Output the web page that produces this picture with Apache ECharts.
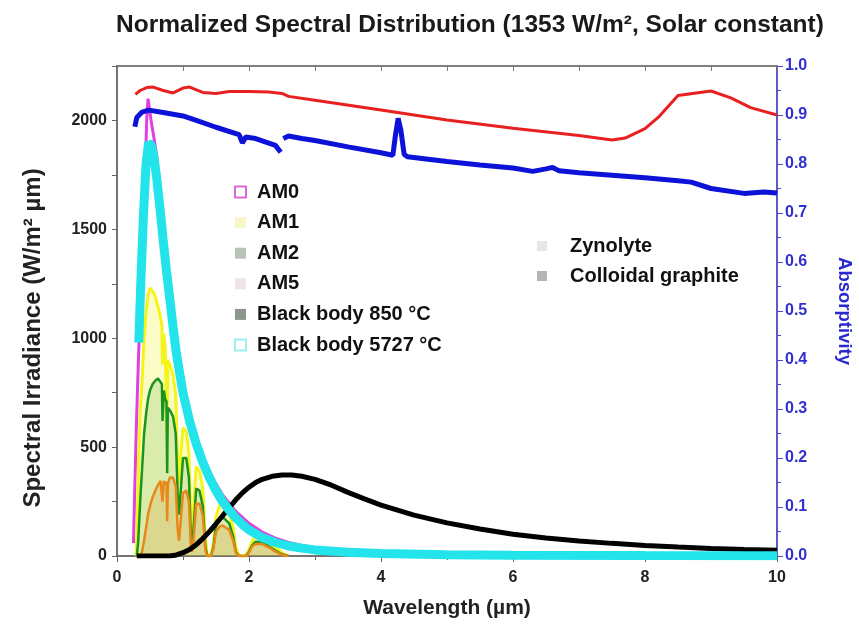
<!DOCTYPE html>
<html><head><meta charset="utf-8">
<script src="https://cdn.jsdelivr.net/npm/echarts@6/dist/echarts.min.js"></script>
<style>html,body{margin:0;padding:0;background:#fff}#c{width:859px;height:632px}</style>
</head><body><div id="c"></div>
<script>
// [wavelength (µm), spectral irradiance (W/m² µm)]
const am0 = [[0.25,60],[0.27,320],[0.29,560],[0.31,760],[0.33,950],[0.35,1080],[0.37,1150],[0.39,1250],[0.41,1550],[0.43,1800],[0.45,2000],[0.47,2100],[0.49,2060],[0.52,1990],[0.56,1920],[0.6,1840],[0.65,1680],[0.7,1500],[0.75,1350],[0.8,1200],[0.9,960],[1.0,790],[1.1,660],[1.2,550],[1.3,460],[1.4,390],[1.5,330],[1.6,280],[1.8,205],[2.0,150],[2.2,110],[2.4,82],[2.6,62],[2.8,48],[3.0,38],[3.5,22],[4.0,14],[5.0,7],[6,4],[8,2],[10,1]];
const am1 = [[0.29,0],[0.31,200],[0.33,480],[0.35,650],[0.38,800],[0.41,1000],[0.44,1120],[0.47,1200],[0.5,1230],[0.53,1220],[0.57,1200],[0.6,1170],[0.65,1110],[0.68,1060],[0.69,880],[0.71,1020],[0.73,960],[0.75,960],[0.76,560],[0.77,900],[0.8,880],[0.85,830],[0.89,740],[0.92,430],[0.94,330],[0.97,480],[1.0,590],[1.05,570],[1.09,470],[1.12,160],[1.14,120],[1.17,280],[1.2,410],[1.25,390],[1.3,310],[1.34,80],[1.37,0],[1.42,0],[1.46,60],[1.5,180],[1.55,230],[1.6,240],[1.7,200],[1.76,130],[1.8,40],[1.85,0],[1.95,0],[2.0,30],[2.05,70],[2.1,90],[2.2,85],[2.3,65],[2.4,40],[2.5,15],[2.6,0]];
const am2 = [[0.3,0],[0.32,60],[0.34,180],[0.36,300],[0.38,400],[0.41,560],[0.44,650],[0.47,720],[0.5,760],[0.54,790],[0.58,805],[0.62,815],[0.65,820],[0.68,790],[0.69,620],[0.71,760],[0.73,720],[0.75,710],[0.76,380],[0.77,680],[0.8,670],[0.85,640],[0.89,560],[0.92,280],[0.94,190],[0.97,320],[1.0,450],[1.05,450],[1.09,360],[1.12,80],[1.14,50],[1.17,170],[1.2,310],[1.25,300],[1.3,230],[1.34,40],[1.37,0],[1.42,0],[1.46,40],[1.5,140],[1.55,175],[1.6,180],[1.7,150],[1.76,90],[1.8,20],[1.85,0],[1.95,0],[2.0,20],[2.05,50],[2.1,65],[2.2,62],[2.3,45],[2.4,25],[2.5,8],[2.6,0]];
const am5 = [[0.35,0],[0.38,20],[0.41,70],[0.44,130],[0.47,190],[0.5,230],[0.54,270],[0.58,300],[0.62,325],[0.66,345],[0.68,350],[0.69,250],[0.71,345],[0.73,330],[0.75,340],[0.76,160],[0.77,330],[0.8,360],[0.85,360],[0.89,320],[0.92,120],[0.94,70],[0.97,180],[1.0,290],[1.05,300],[1.09,250],[1.12,40],[1.14,20],[1.17,110],[1.2,240],[1.25,240],[1.3,185],[1.34,25],[1.37,0],[1.42,0],[1.46,30],[1.5,110],[1.55,135],[1.6,140],[1.7,120],[1.76,70],[1.8,15],[1.85,0],[1.95,0],[2.0,15],[2.05,45],[2.1,55],[2.2,55],[2.3,40],[2.4,20],[2.5,5],[2.6,0]];
const bb850 = [[0.3,0],[0.8,0],[0.9,5],[1.0,15],[1.1,30],[1.2,52],[1.3,80],[1.4,112],[1.5,148],[1.6,185],[1.7,222],[1.8,258],[1.9,290],[2.0,316],[2.1,337],[2.2,352],[2.35,366],[2.5,372],[2.65,372],[2.8,366],[3.0,352],[3.25,325],[3.5,292],[3.75,262],[4.0,234],[4.5,188],[5.0,152],[5.5,124],[6.0,100],[6.5,83],[7.0,69],[7.5,58],[8.0,48],[8.5,41],[9.0,35],[9.5,30],[10,26]];
const bb5727 = [[0.33,980],[0.36,1250],[0.4,1560],[0.44,1800],[0.48,1900],[0.52,1885],[0.56,1830],[0.6,1740],[0.65,1600],[0.7,1450],[0.75,1310],[0.8,1180],[0.85,1050],[0.9,930],[1.0,750],[1.1,620],[1.2,515],[1.3,430],[1.4,360],[1.5,300],[1.6,250],[1.7,210],[1.8,175],[1.9,145],[2.0,120],[2.2,85],[2.4,62],[2.6,46],[2.8,36],[3.0,28],[3.5,17],[4.0,11],[5.0,6],[6.0,4],[8.0,2],[10,1]];
// [wavelength (µm), absorptivity]
const zynolyte = [[0.28,0.942],[0.35,0.950],[0.45,0.956],[0.55,0.957],[0.7,0.950],[0.85,0.945],[1.0,0.955],[1.1,0.957],[1.3,0.946],[1.5,0.944],[1.7,0.948],[2.0,0.948],[2.3,0.947],[2.5,0.944],[2.6,0.938],[3.0,0.930],[4.0,0.910],[5.0,0.890],[6.0,0.873],[7.0,0.858],[7.5,0.849],[7.7,0.853],[8.0,0.872],[8.2,0.895],[8.5,0.940],[9.0,0.949],[9.3,0.935],[9.6,0.915],[10,0.900]];
const graphite = [[0.27,0.876],[0.3,0.895],[0.38,0.906],[0.48,0.910],[0.7,0.905],[1.0,0.898],[1.18,0.890],[1.5,0.875],[1.85,0.860],[1.9,0.843],[1.95,0.855],[2.1,0.852],[2.4,0.838],[2.48,0.824],[2.5,null],[2.52,0.852],[2.6,0.857],[2.8,0.852],[3.0,0.848],[3.5,0.835],[4.0,0.823],[4.18,0.818],[4.22,0.86],[4.26,0.893],[4.3,0.87],[4.35,0.82],[4.4,0.815],[5.0,0.805],[5.5,0.798],[6.0,0.792],[6.3,0.785],[6.5,0.790],[6.6,0.793],[6.7,0.786],[7.0,0.782],[7.5,0.777],[8.0,0.772],[8.5,0.766],[8.7,0.763],[9.0,0.750],[9.5,0.740],[9.8,0.743],[10,0.741]];
const xTicks = [0,2,4,6,8,10];

const FF = "'Liberation Sans', Arial, sans-serif";
const chart = echarts.init(document.getElementById('c'), null, {renderer:'canvas'});
const spec = (name, data, color, width, z, area) => ({
  name, type:'line', data, xAxisIndex:0, yAxisIndex:0, showSymbol:false, smooth:false,
  lineStyle:{color, width}, itemStyle:{color}, z,
  areaStyle: area ? {color, opacity: area} : undefined,
  emphasis:{disabled:true}, silent:true
});
chart.setOption({
  animation:false,
  backgroundColor:'#fff',
  title:{text:'Normalized Spectral Distribution (1353 W/m², Solar constant)', left:111, top:8,
    textStyle:{fontFamily:FF, fontWeight:'bold', fontSize:24.5, color:'#1a1a1a'}},
  grid:{left:117, right:82, top:66, bottom:76, outerBoundsMode:'none', containLabel:false,
    show:true, borderColor:'#777', borderWidth:1.5, backgroundColor:'transparent'},
  legend:[
    {orient:'vertical', left:234, top:182, itemGap:10.6, itemWidth:11, itemHeight:11, padding:0,
     textStyle:{fontFamily:FF, fontWeight:'bold', fontSize:20, color:'#111', padding:[0,0,0,6]},
     selectedMode:false,
     data:[
      {name:'AM0', icon:'emptyRect', itemStyle:{color:'#d86ad8', borderColor:'#d86ad8', borderWidth:1.5}},
      {name:'AM1', icon:'rect', itemStyle:{color:'#f6f6c8'}},
      {name:'AM2', icon:'rect', itemStyle:{color:'#b8c4b8'}},
      {name:'AM5', icon:'rect', itemStyle:{color:'#ece6e6'}},
      {name:'Black body 850 °C', icon:'rect', itemStyle:{color:'#8c968c'}},
      {name:'Black body 5727 °C', icon:'emptyRect', itemStyle:{color:'#9ef0f0', borderColor:'#9ef0f0', borderWidth:1.5}}
     ]},
    {orient:'vertical', left:537, top:236, itemGap:10, itemWidth:10, itemHeight:10, padding:0,
     textStyle:{fontFamily:FF, fontWeight:'bold', fontSize:20, color:'#111', padding:[0,0,0,18]},
     selectedMode:false,
     data:[
      {name:'Zynolyte', icon:'rect', itemStyle:{color:'#e6e6e6'}},
      {name:'Colloidal graphite', icon:'rect', itemStyle:{color:'#b4b4b4'}}
     ]}
  ],
  xAxis:[
    {type:'value', position:'bottom', min:0, max:10, interval:2,
     name:'Wavelength (µm)', nameLocation:'middle', nameGap:42,
     nameTextStyle:{fontFamily:FF, fontWeight:'bold', fontSize:21, color:'#222'},
     axisLine:{show:true, onZero:false, lineStyle:{color:'#666', width:1.5}},
     axisTick:{show:true, inside:false, length:6, lineStyle:{color:'#666'}},
     minorTick:{show:true, splitNumber:2, length:4, lineStyle:{color:'#666'}},
     splitLine:{show:false},
     axisLabel:{fontFamily:FF, fontWeight:'bold', fontSize:16, color:'#222', margin:14,
       formatter:v=>xTicks.includes(v)?String(v):''}},
    {type:'value', position:'top', min:0, max:10, interval:1,
     axisLine:{show:true, onZero:false, lineStyle:{color:'#777', width:1.5}},
     axisTick:{show:true, inside:true, length:5, lineStyle:{color:'#777'}},
     splitLine:{show:false}, axisLabel:{show:false}}
  ],
  yAxis:[
    {type:'value', position:'left', min:0, max:2250, interval:250,
     name:'Spectral Irradiance (W/m² µm)', nameLocation:'middle', nameGap:72, nameRotate:90,
     nameTextStyle:{fontFamily:FF, fontWeight:'bold', fontSize:24, color:'#222', padding:[0,54,0,0]},
     axisLine:{show:true, onZero:false, lineStyle:{color:'#666', width:1.5}},
     axisTick:{show:true, inside:false, length:5, lineStyle:{color:'#666'}},
     splitLine:{show:false},
     axisLabel:{fontFamily:FF, fontWeight:'bold', fontSize:16, color:'#222', margin:10,
       formatter:v=>(v%500===0 && v<=2000)?String(v):''}},
    {type:'value', position:'right', min:0, max:1, interval:0.1,
     name:'Absorptivity', nameLocation:'middle', nameGap:58, nameRotate:-90,
     nameTextStyle:{fontFamily:FF, fontWeight:'bold', fontSize:18.5, color:'#2a2ad0'},
     axisLine:{show:true, onZero:false, lineStyle:{color:'#4848d0', width:1.5}},
     axisTick:{show:true, inside:false, length:6, lineStyle:{color:'#4848d0'}},
     minorTick:{show:true, splitNumber:2, length:4, lineStyle:{color:'#4848d0'}},
     splitLine:{show:false},
     axisLabel:{fontFamily:FF, fontWeight:'bold', fontSize:16, color:'#3030d0', margin:8,
       formatter:v=>v.toFixed(1)}}
  ],
  series:[
    spec('AM0', am0, '#e040e0', 3, 2, 0),
    spec('AM1', am1, '#f4f41a', 3, 3, 0.25),
    spec('AM2', am2, '#1a941a', 2.5, 4, 0.15),
    spec('AM5', am5, '#e8881a', 2.5, 5, 0.2),
    spec('Black body 850 °C', bb850, '#000000', 5, 6, 0),
    spec('Black body 5727 °C', bb5727, '#22e4ea', 9, 7, 0),
    {name:'Zynolyte', type:'line', data:zynolyte, xAxisIndex:1, yAxisIndex:1, showSymbol:false,
     lineStyle:{color:'#e82020', width:3}, itemStyle:{color:'#e82020'}, z:8, silent:true},
    {name:'Colloidal graphite', type:'line', data:graphite, xAxisIndex:0, yAxisIndex:1, showSymbol:false,
     connectNulls:false, lineStyle:{color:'#0c12d8', width:5}, itemStyle:{color:'#0c12d8'}, z:9, silent:true}
  ]
});
</script></body></html>
